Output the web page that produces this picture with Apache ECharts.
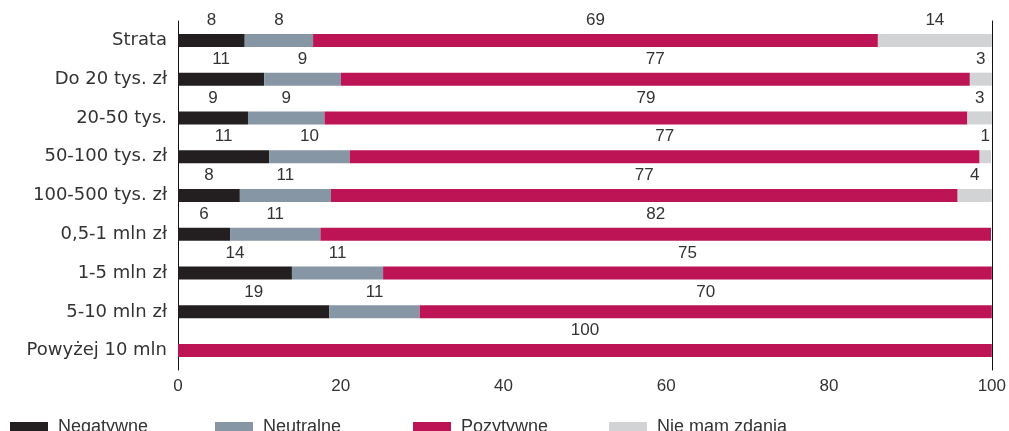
<!DOCTYPE html>
<html>
<head>
<meta charset="utf-8">
<script src="https://cdn.jsdelivr.net/npm/echarts@6/dist/echarts.min.js"></script>
<style>
html,body{margin:0;padding:0;background:#fff;}
#chart{width:1009px;height:431px;}
</style>
</head>
<body>
<div id="chart"></div>
<script>
const categories = ['Strata','Do 20 tys. zł','20-50 tys.','50-100 tys. zł','100-500 tys. zł','0,5-1 mln zł','1-5 mln zł','5-10 mln zł','Powyżej 10 mln'];
const seriesNames = ['Negatywne','Neutralne','Pozytywne','Nie mam zdania'];
const negatywne = [8.2, 10.6, 8.6, 11.2, 7.6, 6.4, 14.0, 18.6, 0];
const neutralne = [8.4, 9.4, 9.4, 9.9, 11.2, 11.1, 11.2, 11.1, 0];
const pozytywne = [69.4, 77.3, 79.0, 77.4, 77.0, 82.4, 74.8, 70.3, 100];
const nieMamZdania = [14.0, 2.7, 3.0, 1.4, 4.2, 0, 0, 0, 0];
const xTicks = [0, 20, 40, 60, 80, 100];

const colors = ['#231f20', '#8796a5', '#bc1454', '#d1d3d4'];
const values = [negatywne, neutralne, pozytywne, nieMamZdania];
const legendLefts = [5, 210, 408, 604];

const chart = echarts.init(document.getElementById('chart'));
chart.setOption({
  animation: false,
  backgroundColor: '#fff',
  grid: { left: 178, right: 14, top: 21, bottom: 61, containLabel: false },
  legend: seriesNames.map((name, i) => ({
    data: [name],
    left: legendLefts[i],
    top: 413,
    itemWidth: 38,
    itemHeight: 10,
    icon: 'rect',
    textStyle: {
      fontFamily: 'Liberation Sans Narrow, Liberation Sans, sans-serif',
      fontSize: 18,
      color: '#333',
      padding: [0, 0, 0, 5]
    }
  })),
  xAxis: {
    type: 'value',
    min: xTicks[0],
    max: xTicks[xTicks.length - 1],
    interval: xTicks[1] - xTicks[0],
    axisLine: { show: false },
    axisTick: { show: false },
    splitLine: { show: false },
    axisLabel: {
      margin: 8,
      fontFamily: 'Liberation Sans Narrow, Liberation Sans, sans-serif',
      fontSize: 17,
      color: '#333'
    }
  },
  yAxis: [{
    type: 'category',
    data: categories,
    inverse: true,
    axisLine: { show: true, lineStyle: { color: '#111', width: 1 } },
    axisTick: { show: false },
    axisLabel: {
      margin: 11,
      fontFamily: 'DejaVu Sans, sans-serif',
      fontSize: 18,
      color: '#333'
    }
  }, {
    type: 'category',
    data: categories,
    inverse: true,
    position: 'right',
    axisLine: { show: true, lineStyle: { color: '#111', width: 1 } },
    axisTick: { show: false },
    axisLabel: { show: false }
  }],
  series: seriesNames.map((name, i) => ({
    name: name,
    type: 'bar',
    stack: 'total',
    barWidth: 13,
    itemStyle: { color: colors[i] },
    data: values[i],
    label: {
      show: true,
      position: 'top',
      distance: 5,
      fontFamily: 'Liberation Sans, Arial, sans-serif',
      fontSize: 17,
      color: '#333',
      formatter: p => p.value > 0 ? String(Math.round(p.value)) : ''
    }
  }))
});
</script>
</body>
</html>
